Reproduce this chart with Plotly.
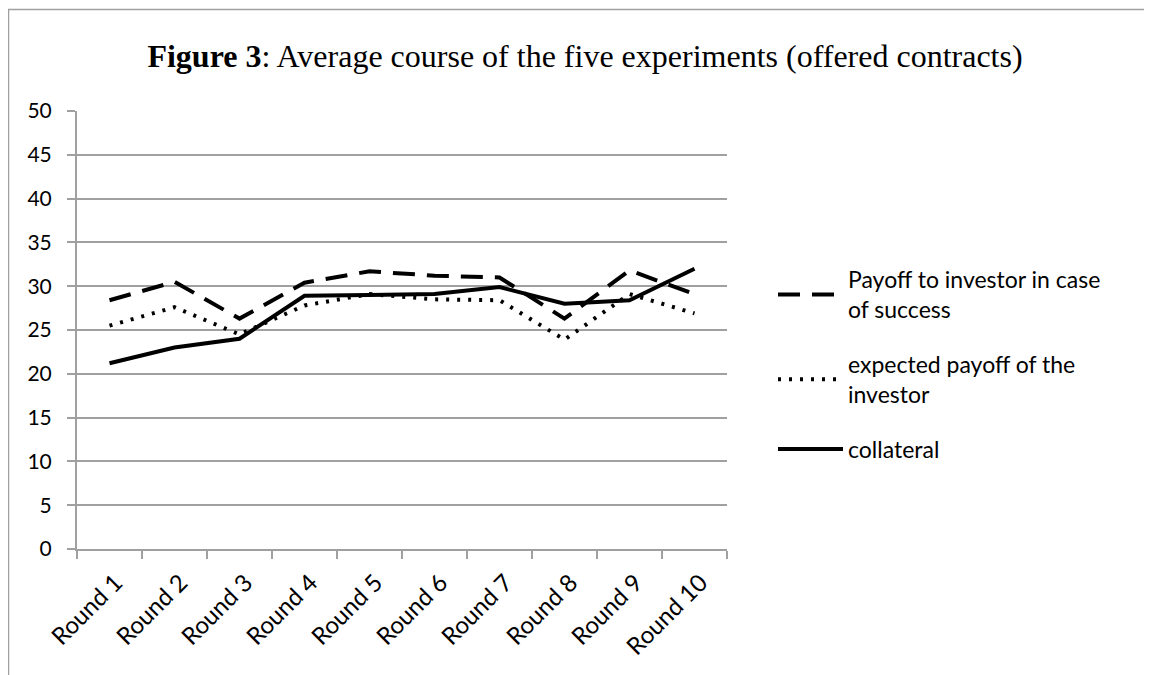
import plotly.graph_objects as go

rounds = ["Round 1", "Round 2", "Round 3", "Round 4", "Round 5",
          "Round 6", "Round 7", "Round 8", "Round 9", "Round 10"]
payoff_success = [28.4, 30.5, 26.3, 30.4, 31.7, 31.2, 31.0, 26.3, 31.8, 29.1]
expected_payoff = [25.5, 27.6, 24.5, 27.8, 29.1, 28.5, 28.4, 23.9, 29.1, 26.9]
collateral = [21.2, 23.0, 24.0, 28.9, 29.0, 29.1, 29.9, 28.0, 28.4, 32.0]
y_ticks = [0, 5, 10, 15, 20, 25, 30, 35, 40, 45, 50]

FONT = "Lato"
GRID = "#a0a0a0"

fig = go.Figure()
fig.add_trace(go.Scatter(
    x=rounds, y=payoff_success, mode="lines", legendgroup="a",
    name="Payoff to investor in case<br>of success",
    line=dict(color="black", width=4, dash="22px,12px")))
fig.add_trace(go.Scatter(
    x=rounds, y=expected_payoff, mode="lines", legendgroup="b",
    name="expected payoff of the<br>investor",
    line=dict(color="black", width=4, dash="3px,8px")))
fig.add_trace(go.Scatter(
    x=rounds, y=collateral, mode="lines", legendgroup="c",
    name="collateral",
    line=dict(color="black", width=4)))

# figure pixel coordinates (page is offset by 8px body margin)
L, R, T, B = 69, 719, 103, 541
W, H = 1152, 675

def px_x(p):
    return (p - L) / (R - L)

def px_y(p):
    return (B - p) / (B - T)

fig.update_layout(
    width=W, height=H,
    margin=dict(l=L, r=W - R, t=T, b=H - B, pad=0),
    paper_bgcolor="white", plot_bgcolor="white",
    font=dict(family=FONT, color="black", size=20),
    title=dict(
        text="<b>Figure 3</b>: Average course of the five experiments (offered contracts)",
        font=dict(family="Liberation Serif", size=32, color="black"),
        xref="container", x=577 / W, xanchor="center",
        yref="container", y=1 - 48 / H, yanchor="middle"),
    showlegend=True,
    legend=dict(
        x=px_x(765), xanchor="left", y=px_y(250), yanchor="top",
        font=dict(family=FONT, size=23, color="black"),
        itemwidth=65, tracegroupgap=22, bgcolor="rgba(0,0,0,0)"),
    xaxis=dict(
        type="category", showgrid=False, showline=True, linecolor=GRID, linewidth=2,
        ticks="outside", tickson="boundaries", ticklen=8, tickcolor=GRID, tickwidth=2,
        tickangle=-45, tickfont=dict(family=FONT, size=24, color="black"),
        ticklabelstandoff=8, ticklabelshift=6,
        range=[-0.5, 9.5], zeroline=False),
    yaxis=dict(
        range=[0, 50], tickvals=y_ticks, showgrid=True, gridcolor=GRID, gridwidth=2,
        showline=True, linecolor=GRID, linewidth=2,
        ticks="outside", ticklen=8, tickcolor=GRID, tickwidth=2,
        tickfont=dict(family=FONT, size=21, color="black"),
        zeroline=False, ticklabelstandoff=11),
    shapes=[
        dict(type="line", xref="paper", yref="paper",
             x0=px_x(0), x1=px_x(W + 5), y0=px_y(1.5), y1=px_y(1.5),
             line=dict(color="#a0a0a0", width=1.5)),
        dict(type="line", xref="paper", yref="paper",
             x0=px_x(0.5), x1=px_x(0.5), y0=px_y(1.5), y1=px_y(H + 5),
             line=dict(color="#a0a0a0", width=1.5)),
    ],
)

fig.write_html("out.html")
